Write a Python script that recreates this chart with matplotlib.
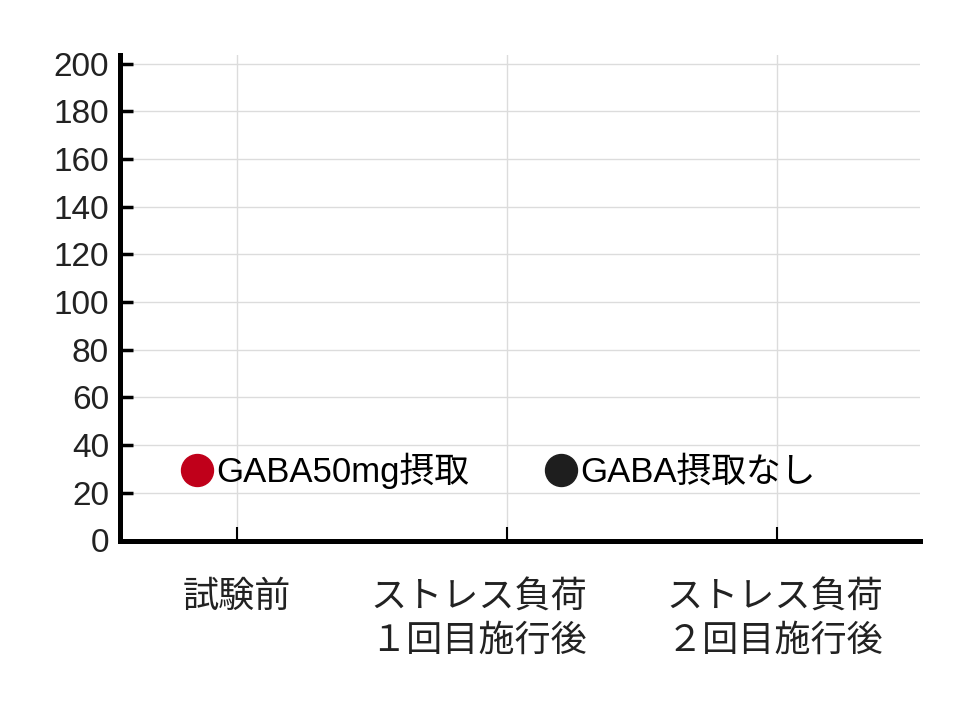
import matplotlib
matplotlib.use('Agg')
import matplotlib.pyplot as plt
from matplotlib.transforms import ScaledTranslation

plt.rcParams['font.family'] = ['Liberation Sans', 'Noto Sans CJK JP', 'DejaVu Sans']

categories = ['試験前', 'ストレス負荷\n１回目施行後', 'ストレス負荷\n２回目施行後']
yticks = [0, 20, 40, 60, 80, 100, 120, 140, 160, 180, 200]
series_names = ['GABA50mg摂取', 'GABA摂取なし']
series_colors = ['#c0001a', '#1e1e1e']
# no measurements shown yet in the picture
series_values = [[], []]

fig = plt.figure(figsize=(9.79, 7.06), dpi=100)
ax = fig.add_axes([120 / 979, 1 - 540.5 / 706, 800 / 979, 485.5 / 706])

x = list(range(len(categories)))
for name, col, vals in zip(series_names, series_colors, series_values):
    ax.plot(x[:len(vals)], vals, 'o', color=col, markersize=23, label=name)

ax.set_xlim(-0.433, 2.53)
ax.set_ylim(0, 203.6)
ax.set_xticks(x)
ax.set_xticklabels(categories, fontsize=26, color='#222222', linespacing=1.25,
                   family=['Noto Sans CJK JP', 'DejaVu Sans'])
ax.set_yticks(yticks)
ax.set_yticklabels([str(v) for v in yticks], fontsize=24, color='#222222')

ax.grid(True, color='#dcdcdc', linewidth=1)
ax.set_axisbelow(True)
for s in ['top', 'right']:
    ax.spines[s].set_visible(False)
ax.spines['left'].set_linewidth(3.6)
ax.spines['bottom'].set_linewidth(3.6)
ax.tick_params(axis='y', direction='in', length=9, width=2.5, pad=8)
ax.tick_params(axis='x', direction='in', length=10, width=1.5, pad=28)

# the middle label sits a bit left of its tick in the original
shifts = [0, -28, -2]
for lab, dx in zip(ax.get_xticklabels(), shifts):
    lab.set_transform(lab.get_transform() + ScaledTranslation(dx / 100, 0, fig.dpi_scale_trans))

ax.legend(loc='center left', bbox_to_anchor=(0.0745, 0.143), ncol=2, frameon=False,
          fontsize=25, handletextpad=0.05, columnspacing=2.15,
          handlelength=1.0, borderaxespad=0, borderpad=0)

fig.savefig('out.png', dpi=100, facecolor='white')
